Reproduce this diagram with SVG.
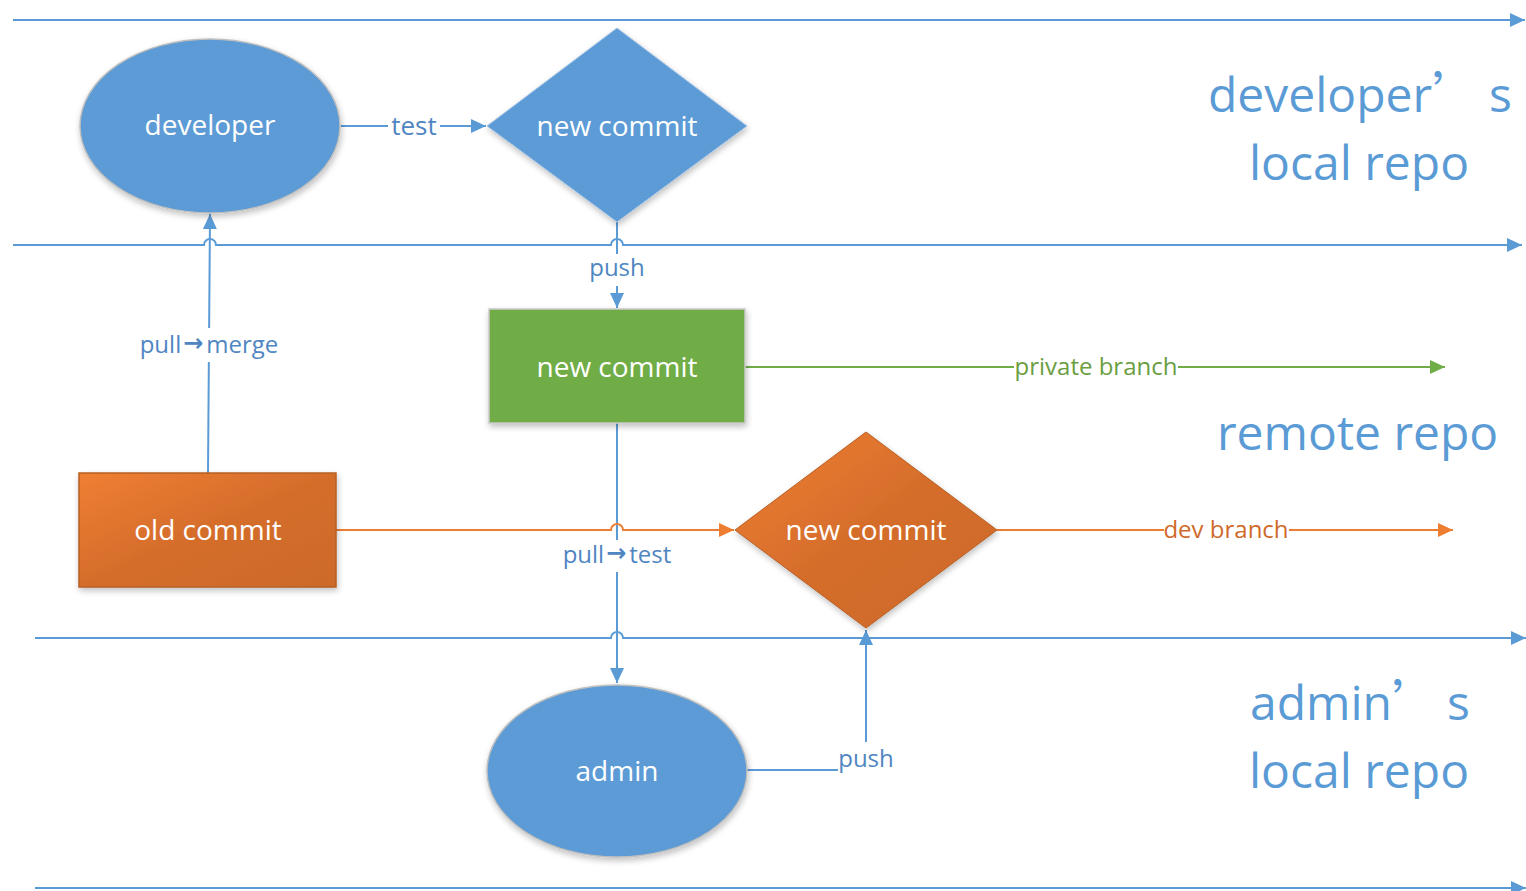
<svg xmlns="http://www.w3.org/2000/svg" width="1526" height="891" viewBox="0 0 1526 891">
<style>
.lane{fill:none;stroke:#5B9BD5;stroke-width:2}
.blue{fill:none;stroke:#5B9BD5;stroke-width:2}
.green{fill:none;stroke:#70AD47;stroke-width:2}
.orange{fill:none;stroke:#ED7D31;stroke-width:2}
.node{font-family:"Open Sans","Liberation Sans",sans-serif;font-size:28px;fill:#FFFFFF;text-anchor:middle}
.lbl{font-family:"Open Sans","Liberation Sans",sans-serif;font-size:24px;text-anchor:middle}
.big{font-family:"Open Sans","Liberation Sans",sans-serif;font-size:48px;fill:#5B9BD5}
.arr{font-family:"DejaVu Sans",sans-serif;font-weight:bold;font-size:24px}
.apo{font-family:"Noto Sans CJK SC","Open Sans",sans-serif}
.bg{fill:#FFFFFF}
</style>
<defs>
<marker id="ab" markerUnits="userSpaceOnUse" markerWidth="16" markerHeight="14" refX="15" refY="7" orient="auto"><path d="M0,0 L15,7 L0,14 Z" fill="#5B9BD5"/></marker>
<marker id="ag" markerUnits="userSpaceOnUse" markerWidth="16" markerHeight="14" refX="15" refY="7" orient="auto"><path d="M0,0 L15,7 L0,14 Z" fill="#70AD47"/></marker>
<marker id="ao" markerUnits="userSpaceOnUse" markerWidth="16" markerHeight="14" refX="15" refY="7" orient="auto"><path d="M0,0 L15,7 L0,14 Z" fill="#ED7D31"/></marker>
<linearGradient id="og" x1="0" y1="0" x2="1" y2="1"><stop offset="0" stop-color="#EF7F32"/><stop offset="0.5" stop-color="#D56D2C"/><stop offset="1" stop-color="#CC6A2B"/></linearGradient>
<filter id="sh" x="-10%" y="-10%" width="125%" height="130%"><feGaussianBlur in="SourceAlpha" stdDeviation="3"/><feOffset dx="1" dy="3"/><feComponentTransfer><feFuncA type="linear" slope="0.25"/></feComponentTransfer><feMerge><feMergeNode/><feMergeNode in="SourceGraphic"/></feMerge></filter>
</defs>

<g id="lanes">
<path class="lane" d="M13,20 H1525" marker-end="url(#ab)"/>
<path class="lane" d="M13,245 H204 A6,6 0 0 1 216,245 H611 A6,6 0 0 1 623,245 H1522" marker-end="url(#ab)"/>
<path class="lane" d="M35,638 H611 A6,6 0 0 1 623,638 H1526" marker-end="url(#ab)"/>
<path class="lane" d="M35,888 H1526" marker-end="url(#ab)"/>
</g>

<g id="lane-labels">
<text class="big" x="1208" y="112">developer<tspan class="apo">’</tspan><tspan x="1489">s</tspan></text>
<text class="big" x="1249" y="180">local repo</text>
<text class="big" x="1217" y="450">remote repo</text>
<text class="big" x="1250" y="720">admin<tspan class="apo">’</tspan><tspan x="1447">s</tspan></text>
<text class="big" x="1249" y="788">local repo</text>
</g>

<g id="connectors">
<path class="blue" d="M341,126 H486" marker-end="url(#ab)"/>
<rect class="bg" x="388" y="110" width="52" height="30"/>
<text class="lbl" x="414" y="135" style="font-size:26px;fill:#4F86C2">test</text>

<path class="blue" d="M617,222 V308" marker-end="url(#ab)"/>
<rect class="bg" x="588" y="254" width="58" height="32"/>
<text class="lbl" x="617" y="276" style="fill:#4F86C2">push</text>

<path class="blue" d="M208,473 L210,214" marker-end="url(#ab)"/>
<rect class="bg" x="135" y="328" width="148" height="34"/>
<text class="lbl" x="209" y="353" style="fill:#4F86C2">pull<tspan class="arr" dx="2" dy="-2">→</tspan><tspan dx="3" dy="2">merge</tspan></text>

<path class="blue" d="M617,423 V683" marker-end="url(#ab)"/>
<path class="orange" d="M336,530 H611 A6,6 0 0 1 623,530 H734" marker-end="url(#ao)"/>
<rect class="bg" x="558" y="540" width="120" height="32"/>
<text class="lbl" x="617" y="563" style="fill:#4F86C2">pull<tspan class="arr" dx="2" dy="-2">→</tspan><tspan dx="3" dy="2">test</tspan></text>

<path class="green" d="M745,367 H1445" marker-end="url(#ag)"/>
<rect class="bg" x="1014" y="352" width="164" height="30"/>
<text class="lbl" x="1096" y="375" style="fill:#6A9E41">private branch</text>

<path class="orange" d="M997,530 H1453" marker-end="url(#ao)"/>
<rect class="bg" x="1164" y="515" width="125" height="30"/>
<text class="lbl" x="1226" y="538" style="fill:#CF6A2A">dev branch</text>

<path class="blue" d="M747,770 H866 V630" marker-end="url(#ab)"/>
<rect class="bg" x="838" y="742" width="57" height="32"/>
<text class="lbl" x="866" y="767" style="fill:#4F86C2">push</text>
</g>

<g id="developer">
<ellipse cx="210" cy="126" rx="130" ry="87" fill="#5B9BD5" stroke="#BFBFBF" stroke-width="1.5" filter="url(#sh)"/>
<text class="node" x="210" y="135">developer</text>
</g>

<g id="dev-new-commit">
<path d="M617,28 L747,126 L617,222 L487,126 Z" fill="#5B9BD5" stroke="#A9C6E6" stroke-width="1" filter="url(#sh)"/>
<text class="node" x="617" y="136">new commit</text>
</g>

<g id="remote-new-commit">
<rect x="489" y="309" width="256" height="114" fill="#70AD47" stroke="#C9C9C9" stroke-width="1.5" filter="url(#sh)"/>
<text class="node" x="617" y="377">new commit</text>
</g>

<g id="old-commit">
<rect x="79" y="473" width="257" height="114" fill="url(#og)" stroke="#B85F24" stroke-width="1.5" filter="url(#sh)"/>
<text class="node" x="208" y="540">old commit</text>
</g>

<g id="dev-branch-commit">
<path d="M866,432 L997,530 L866,628 L735,530 Z" fill="url(#og)" stroke="#B85F24" stroke-width="1" filter="url(#sh)"/>
<text class="node" x="866" y="540">new commit</text>
</g>

<g id="admin">
<ellipse cx="617" cy="771" rx="130" ry="86" fill="#5B9BD5" stroke="#BFBFBF" stroke-width="1.5" filter="url(#sh)"/>
<text class="node" x="617" y="781">admin</text>
</g>
</svg>
